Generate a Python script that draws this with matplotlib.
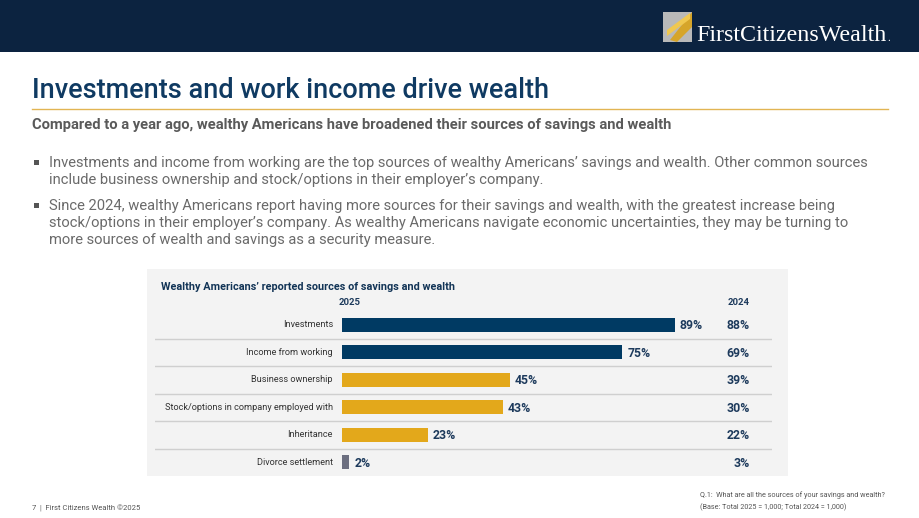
import matplotlib
matplotlib.use("Agg")
import matplotlib.pyplot as plt
from matplotlib.patches import Rectangle, Polygon

# data
categories = ["Investments", "Income from working", "Business ownership",
              "Stock/options in company employed with", "Inheritance", "Divorce settlement"]
vals_2025 = [89, 75, 45, 43, 23, 2]
vals_2024 = [88, 69, 39, 30, 22, 3]
bar_colors = ["#003a63", "#003a63", "#e3a81b", "#e3a81b", "#e3a81b", "#6c6f80"]

bullets = [
    ["Investments and income from working are the top sources of wealthy Americans\u2019 savings and wealth. Other common sources",
     "include business ownership and stock/options in their employer\u2019s company."],
    ["Since 2024, wealthy Americans report having more sources for their savings and wealth, with the greatest increase being",
     "stock/options in their employer\u2019s company. As wealthy Americans navigate economic uncertainties, they may be turning to",
     "more sources of wealth and savings as a security measure."],
]

W, H = 920, 518
plt.rcParams['font.family'] = ['Roboto', 'DejaVu Sans']
fig = plt.figure(figsize=(W / 100, H / 100), dpi=100)
fig.patch.set_facecolor("white")

def fx(px):
    return px / W

def fy(py):
    return 1 - py / H

navy = "#0f3a62"

# header bar + logo
fig.patches.append(Rectangle((0, fy(52)), 1, 52 / H, transform=fig.transFigure,
                             facecolor="#0c2340", edgecolor="none", zorder=0))
fig.patches.append(Rectangle((fx(663), fy(42)), 29 / W, 30 / H, transform=fig.transFigure,
                             facecolor="#b9b9b9", edgecolor="none", zorder=1))
fig.patches.append(Polygon([(fx(670), fy(40)), (fx(692), fy(12)), (fx(692), fy(27)), (fx(677), fy(42))],
                           closed=True, transform=fig.transFigure, facecolor="#d6a52a",
                           edgecolor="none", zorder=2))
fig.patches.append(Polygon([(fx(667), fy(30)), (fx(690), fy(13)), (fx(690), fy(19)), (fx(667), fy(36))],
                           closed=True, transform=fig.transFigure, facecolor="#f0c850",
                           edgecolor="none", zorder=3))
logo = fig.text(fx(696), fy(41), "FirstCitizensWealth", color="white", fontsize=17.3,
                family="Liberation Serif", va="baseline", ha="left")
fig.canvas.draw()
bb = logo.get_window_extent()
fig.text(bb.x1 / W + 1 / W, fy(41), ".", color="white", fontsize=8, family="Liberation Serif",
         va="baseline")

# title and subtitle
fig.text(fx(32), fy(98), "Investments and work income drive wealth", color=navy,
         fontsize=19.5, fontweight="medium", va="baseline")
fig.lines.append(plt.Line2D([fx(32), fx(888)], [fy(109), fy(109)], transform=fig.transFigure,
                            color="#e2b553", lw=1))
fig.text(fx(32), fy(128.5), "Compared to a year ago, wealthy Americans have broadened their sources of savings and wealth",
         color="#5a5a5a", fontsize=10.6, fontweight="bold", va="baseline")

# bullets
line_y = [[167, 184], [210, 227, 244]]
for blines, ys in zip(bullets, line_y):
    fig.patches.append(Rectangle((fx(34), fy(ys[0] - 2)), 5 / W, 5 / H, transform=fig.transFigure,
                                 facecolor="#555555", edgecolor="none"))
    for txt, yy in zip(blines, ys):
        fig.text(fx(49), fy(yy), txt, color="#6a6a6a", fontsize=10.6, va="baseline")

# chart panel
fig.patches.append(Rectangle((fx(147), fy(476)), (788 - 147) / W, (476 - 269) / H,
                             transform=fig.transFigure, facecolor="#f3f3f3", edgecolor="none", zorder=-5))
fig.text(fx(161), fy(290), "Wealthy Americans\u2019 reported sources of savings and wealth",
         color="#123456", fontsize=7.8, fontweight="bold", va="baseline")

ax = fig.add_axes([fx(155), fy(476), (772 - 155) / W, (476 - 311) / H])
ax.set_zorder(5)
ax.set_facecolor("none")
ax.set_xlim(-50, 115)
ax.set_ylim(5.5, -0.5)
ax.axis("off")

ypos = list(range(len(categories)))
ax.barh(ypos, vals_2025, height=0.5, color=bar_colors, edgecolor="none")
for i in ypos:
    ax.text(-2.4, i, categories[i], ha="right", va="center", fontsize=6.6, color="#333333")
    ax.text(vals_2025[i] + 1.3, i + 0.03, f"{vals_2025[i]}%", ha="left", va="center",
            fontsize=8.8, fontweight="bold", color="#1d3a5c")
    ax.text(109, i + 0.03, f"{vals_2024[i]}%", ha="right", va="center",
            fontsize=8.8, fontweight="bold", color="#1d3a5c")
for i in ypos[:-1]:
    ax.axhline(i + 0.5, color="#cfcfcf", lw=1)
ax.text(-0.8, -0.8, "2025", ha="left", va="center", fontsize=6.8, fontweight="bold", color="#1d3a5c")
ax.text(109, -0.8, "2024", ha="right", va="center", fontsize=6.8, fontweight="bold", color="#1d3a5c")

# footer
fig.text(fx(32), fy(511), "7  |  First Citizens Wealth \u00a92025", color="#555555", fontsize=5.5, va="baseline")
fig.text(fx(700), fy(497), "Q.1:  What are all the sources of your savings and wealth?", color="#555555",
         fontsize=5.2, va="baseline")
fig.text(fx(700), fy(509), "(Base: Total 2025 = 1,000; Total 2024 = 1,000)", color="#555555",
         fontsize=5.2, va="baseline")

fig.savefig("out.png", dpi=100)
